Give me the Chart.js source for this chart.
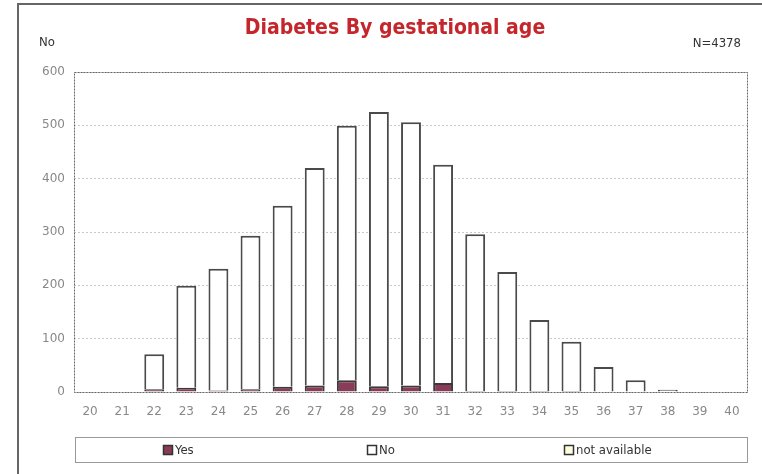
<!DOCTYPE html>
<html>
<head>
<meta charset="utf-8">
<script src="https://cdn.jsdelivr.net/npm/chart.js@4.4.1/dist/chart.umd.min.js"></script>
<style>
  html, body { margin: 0; padding: 0; background: #fff; }
  #wrap { position: relative; width: 762px; height: 474px; }
</style>
</head>
<body>
<div id="wrap"><canvas id="grafico" width="762" height="474"></canvas></div>
<script>
// Dados
const semanas = ["20","21","22","23","24","25","26","27","28","29","30","31","32","33","34","35","36","37","38","39","40"];
const sim = [0, 0, 5, 8, 3, 5, 10, 12, 22, 11, 12, 17, 2, 2, 2, 2, 1, 0, 0, 0, 0];
const nao = [0, 0, 66, 191, 228, 288, 339, 408, 477, 514, 494, 409, 294, 223, 133, 92, 46, 22, 4, 0, 1];
const naoDisponivel = [0, 0, 0, 0, 0, 0, 0, 0, 0, 0, 0, 0, 0, 0, 0, 0, 0, 0, 0, 0, 0];
const ticksY = [0, 100, 200, 300, 400, 500, 600];

const tituloTexto = "Diabetes By gestational age";
const eixoTexto = "No";
const totalTexto = "N=4378";

// Moldura, títulos e legenda desenhados à mão
const extras = {
  id: "extras",
  beforeDraw(chart) {
    const ctx = chart.ctx;
    ctx.save();
    ctx.strokeStyle = "#666";
    ctx.lineWidth = 2;
    ctx.beginPath();
    ctx.moveTo(18, 474);
    ctx.lineTo(18, 4);
    ctx.lineTo(762, 4);
    ctx.stroke();
    ctx.restore();
  },
  afterDraw(chart) {
    const ctx = chart.ctx;
    const area = chart.chartArea;
    ctx.save();

    // borda pontilhada da área do gráfico
    ctx.strokeStyle = "#666";
    ctx.lineWidth = 1;
    ctx.setLineDash([2, 1]);
    ctx.strokeRect(area.left + 0.5, area.top + 0.5, area.right - area.left - 1, area.bottom - area.top);
    ctx.setLineDash([]);

    // título
    ctx.fillStyle = "#c4262b";
    ctx.font = "bold 21px 'DejaVu Sans Condensed', 'DejaVu Sans'";
    ctx.textAlign = "center";
    ctx.textBaseline = "middle";
    ctx.fillText(tituloTexto, 395, 29);

    ctx.fillStyle = "#333";
    ctx.font = "13px 'DejaVu Sans Condensed', 'DejaVu Sans'";
    ctx.textAlign = "left";
    ctx.fillText(eixoTexto, 39, 43);
    ctx.textAlign = "right";
    ctx.fillText(totalTexto, 741, 44);

    // legenda
    ctx.strokeStyle = "#999";
    ctx.lineWidth = 1;
    ctx.strokeRect(75.5, 437.5, 672, 25);
    const posicoes = [163, 367, 564];
    chart.data.datasets.forEach((ds, i) => {
      const x = posicoes[i];
      ctx.fillStyle = ds.backgroundColor;
      ctx.fillRect(x, 445, 10, 10);
      ctx.strokeStyle = "#333";
      ctx.lineWidth = 1.5;
      ctx.strokeRect(x + 0.5, 445.5, 9, 9);
      ctx.fillStyle = "#333";
      ctx.font = "13px 'DejaVu Sans Condensed', 'DejaVu Sans'";
      ctx.textAlign = "left";
      ctx.fillText(ds.label, x + 12, 451);
    });
    ctx.restore();
  }
};

document.addEventListener("DOMContentLoaded", () => {
  const ctx = document.getElementById("grafico").getContext("2d");
  new Chart(ctx, {
    type: "bar",
    data: {
      labels: semanas,
      datasets: [
        { label: "Yes", data: sim, backgroundColor: "#8a3b58", borderColor: "#3a3a3a", borderWidth: 2 },
        { label: "No", data: nao, backgroundColor: "#ffffff", borderColor: "#4a4a4a", borderWidth: 2 },
        { label: "not available", data: naoDisponivel, backgroundColor: "#ffffe0", borderColor: "#4a4a4a", borderWidth: 2 }
      ]
    },
    options: {
      responsive: false,
      animation: false,
      layout: { padding: { top: 72, right: 14, bottom: 52, left: 0 } },
      datasets: { bar: { barPercentage: 0.62, categoryPercentage: 1 } },
      plugins: {
        legend: { display: false },
        title: { display: false },
        tooltip: { enabled: false }
      },
      scales: {
        x: {
          stacked: true,
          grid: { display: false },
          border: { display: false },
          ticks: { color: "#888", padding: 5, font: { family: "DejaVu Sans", size: 12 } },
          afterFit: (scale) => { scale.height = 30; }
        },
        y: {
          stacked: true,
          min: 0,
          max: 600,
          afterBuildTicks: (scale) => { scale.ticks = ticksY.map(v => ({ value: v })); },
          grid: { color: "#c8c8c8", lineWidth: 1, tickLength: 0, drawTicks: false },
          border: { display: false, dash: [2, 2] },
          ticks: { color: "#888", padding: 9, font: { family: "DejaVu Sans", size: 12 } },
          afterFit: (scale) => { scale.width = 74; }
        }
      }
    },
    plugins: [extras]
  });
});
</script>
</body>
</html>
